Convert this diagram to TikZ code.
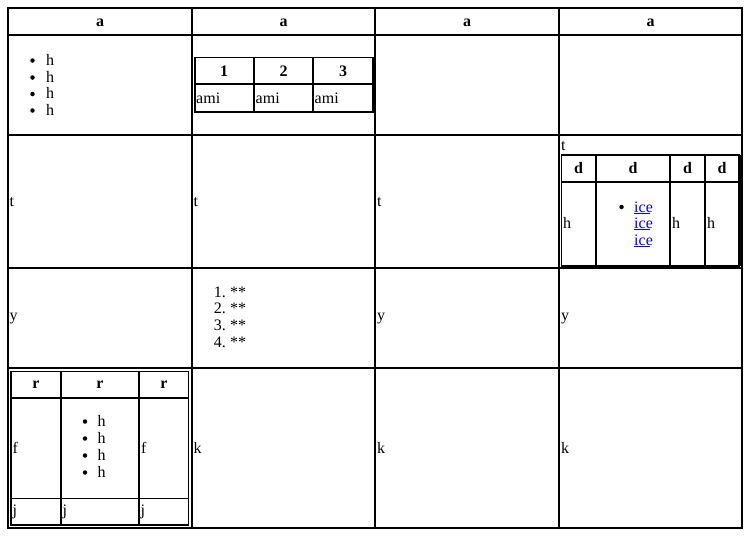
\documentclass[tikz,border=0pt]{standalone}
\usepackage{fontspec}
\setmainfont{Liberation Serif}
\begin{document}
\begin{tikzpicture}[x=1pt,y=-1pt,
  txt/.style={inner sep=0pt,anchor=base west,font=\fontsize{16}{17}\selectfont},
  hd/.style={inner sep=0pt,anchor=base,font=\fontsize{16}{17}\selectfont\bfseries},
  bul/.style={circle,fill=black,inner sep=0pt,minimum size=4.5pt},
  lnk/.style={txt,text=blue},
  grid/.style={line width=1.7pt},
  outer/.style={line width=2pt},
  inner/.style={line width=1.3pt}]
\useasboundingbox (0,0) rectangle (752,539);
% main table
\draw[outer] (8,8) rectangle (741.5,528);
\foreach \x in {192,375,559} \draw[grid] (\x,8) -- (\x,528);
\foreach \y in {35,135,268,368} \draw[grid] (8,\y) -- (741.5,\y);
% headers
\foreach \c/\n in {100/h1,283.5/h2,467/h3,650.5/h4} \node[hd] (\n) at (\c,26) {a};
% row 1 col 1 list
\foreach \y/\n in {65/l1,82/l2,98.5/l3,115/l4} {
  \node[bul] (b\n) at (32.5,\y-4.5) {};
  \node[txt] (\n) at (46,\y) {h};
}
% row 1 col 2 inner table
\draw[inner] (194.5,57.5) rectangle (373,112);
\draw[line width=2.5pt] (195,57.5) -- (195,112);
\foreach \x in {254,313} \draw[inner] (\x,57.5) -- (\x,112);
\draw[inner] (194.5,84) -- (373,84);
\node[hd] (n1) at (224,76) {1};
\node[hd] (n2) at (283.5,76) {2};
\node[hd] (n3) at (343,76) {3};
\node[txt] (am1) at (196,103) {ami};
\node[txt] (am2) at (255.5,103) {ami};
\node[txt] (am3) at (314.5,103) {ami};
% row 2
\node[txt] (t1) at (9.5,206) {t};
\node[txt] (t2) at (193.5,206) {t};
\node[txt] (t3) at (377,206) {t};
\node[txt] (t4) at (561,150) {t};
\draw[inner] (561.5,155) rectangle (739,266);
\draw[line width=2.5pt] (739.5,155) -- (739.5,266);
\foreach \x in {596,670,705} \draw[inner] (\x,155) -- (\x,266);
\draw[inner] (561.5,182) -- (739,182);
\node[hd] (d1) at (578.5,173) {d};
\node[hd] (d2) at (633,173) {d};
\node[hd] (d3) at (687.5,173) {d};
\node[hd] (d4) at (722,173) {d};
\node[txt] (hh1) at (563,228) {h};
\node[txt] (hh2) at (672,228) {h};
\node[txt] (hh3) at (707,228) {h};
\node[bul] (bi) at (621.5,207) {};
\foreach \y/\n in {212/i1,228.5/i2,245/i3} {
  \node[lnk] (\n) at (634,\y) {ice};
  \draw[blue,line width=0.8pt] (\n.base west)++(0,1.3) -- ++(16,0);
}
% row 3
\node[txt] (y1) at (9.5,320.5) {y};
\node[txt] (y3) at (377,320.5) {y};
\node[txt] (y4) at (561,320.5) {y};
\foreach \y/\k in {297/1,313.5/2,330.5/3,347/4} {
  \node[txt,anchor=base east] (o\k) at (226,\y) {\k.};
  \node[txt] (s\k) at (230,\y) {**};
}
% row 4
\draw[inner] (11,371.5) rectangle (188.5,525);
\foreach \x in {61,139} \draw[inner] (\x,371.5) -- (\x,525);
\draw[inner] (11,398) -- (188.5,398);
\draw[line width=0.9pt] (11,498) -- (188.5,498);
\node[hd] (r1) at (36,388) {r};
\node[hd] (r2) at (100,388) {r};
\node[hd] (r3) at (164,388) {r};
\node[txt] (f1) at (12.5,453) {f};
\node[txt] (f2) at (141,453) {f};
\foreach \y/\n in {426/m1,443/m2,460/m3,477/m4} {
  \node[bul] (b\n) at (85,\y-4.5) {};
  \node[txt] (\n) at (97.5,\y) {h};
}
\node[txt] (j1) at (12.5,515) {j};
\node[txt] (j2) at (62.5,515) {j};
\node[txt] (j3) at (140.5,515) {j};
\node[txt] (k2) at (193.5,453) {k};
\node[txt] (k3) at (377,453) {k};
\node[txt] (k4) at (561,453) {k};
\end{tikzpicture}
\end{document}
